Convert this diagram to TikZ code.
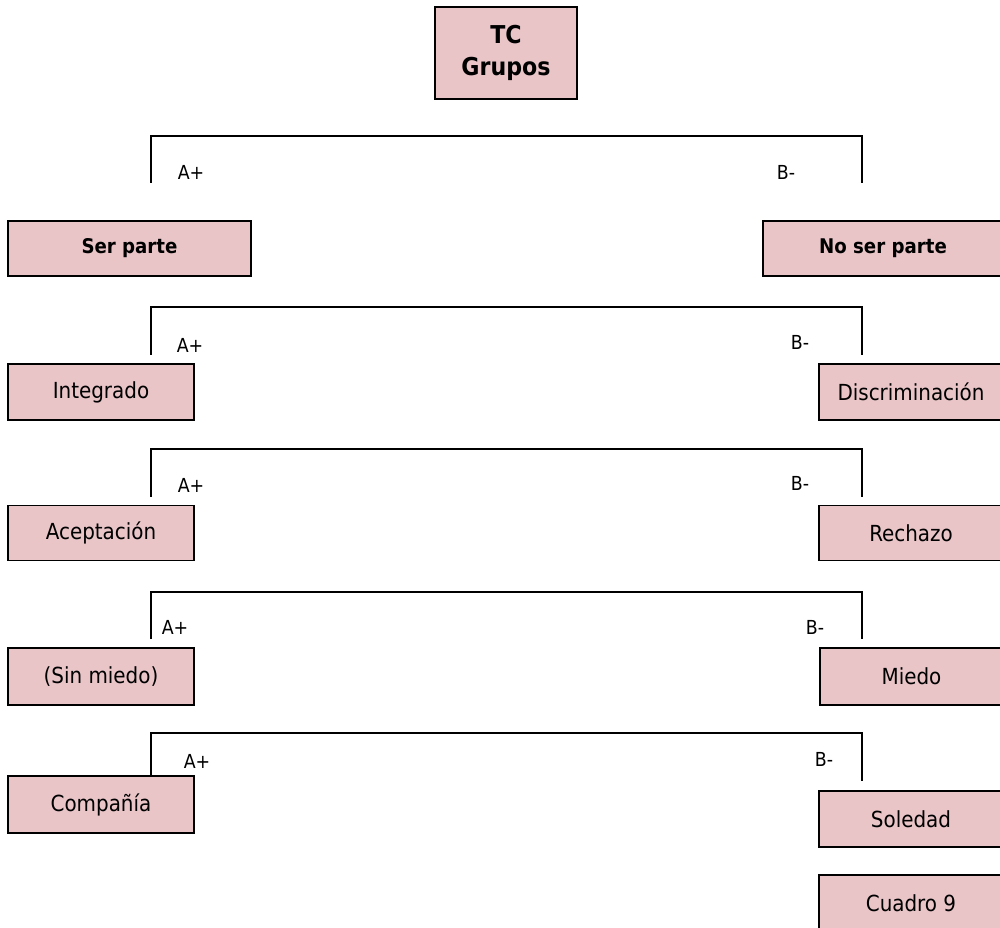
\documentclass[tikz,border=0pt]{standalone}
\usepackage{fontspec}
\setmainfont{DejaVu Sans Condensed}
\definecolor{boxpink}{RGB}{233,197,200}
\tikzset{
  box/.style={draw, line width=1pt, fill=boxpink, inner sep=0pt,
    font=\fontsize{12.6}{15}\selectfont},
  boldbox/.style={box, font=\fontsize{11.5}{14}\selectfont\bfseries},
  lab/.style={inner sep=0pt, font=\fontsize{11}{13}\selectfont},
  brk/.style={line width=0.7pt}
}
\begin{document}
\begin{tikzpicture}[x=0.02cm,y=-0.02cm]
\useasboundingbox (0,0) rectangle (1000,928);

\node[box, align=center, minimum width=2.84cm, minimum height=1.84cm,
  font=\fontsize{14}{18.5}\selectfont\bfseries] (tc) at (506,53) {TC\\Grupos};

% left and right boxes
\node[boldbox, minimum width=4.86cm, minimum height=1.1cm] (ser) at (129.5,248.5) {Ser parte};
\node[boldbox, minimum width=4.8cm, minimum height=1.1cm] (noser) at (883,248.5) {No ser parte};
\node[box, minimum width=3.72cm, minimum height=1.12cm] (integ) at (101,392) {Integrado};
\node[box, minimum width=3.68cm, minimum height=1.12cm] (discr) at (911,392) {Discriminación};
\node[box, minimum width=3.72cm, minimum height=1.1cm] (acep) at (101,533) {Aceptación};
\node[box, minimum width=3.68cm, minimum height=1.1cm] (rech) at (911,533) {Rechazo};
\node[box, minimum width=3.72cm, minimum height=1.14cm] (sinm) at (101,676.5) {(Sin miedo)};
\node[box, minimum width=3.66cm, minimum height=1.14cm] (mied) at (911.5,676.5) {Miedo};
\node[box, minimum width=3.72cm, minimum height=1.14cm] (comp) at (101,804.5) {Compañía};
\node[box, minimum width=3.68cm, minimum height=1.12cm] (sole) at (911,819) {Soledad};
\node[box, minimum width=3.68cm, minimum height=1.12cm] (cuad) at (911,903) {Cuadro 9};

% brackets
\coordinate (top1) at (506,136);
\coordinate (al1) at (151,183);
\coordinate (br1) at (862,183);
\draw[brk] (al1) |- (top1) -| (br1);
\node[lab] (ap1) at (191,172) {A+};
\node[lab] (bm1) at (786,172) {B-};

\coordinate (top2) at (506,307);
\coordinate (al2) at (151,355);
\coordinate (br2) at (862,355);
\draw[brk] (al2) |- (top2) -| (br2);
\node[lab] (ap2) at (190,345) {A+};
\node[lab] (bm2) at (800,342) {B-};

\coordinate (top3) at (506,449);
\coordinate (al3) at (151,497);
\coordinate (br3) at (862,497);
\draw[brk] (al3) |- (top3) -| (br3);
\node[lab] (ap3) at (191,485) {A+};
\node[lab] (bm3) at (800,483) {B-};

\coordinate (top4) at (506,592);
\coordinate (al4) at (151,639);
\coordinate (br4) at (862,639);
\draw[brk] (al4) |- (top4) -| (br4);
\node[lab] (ap4) at (175,627) {A+};
\node[lab] (bm4) at (815,627) {B-};

\coordinate (top5) at (506,733);
\coordinate (al5) at (comp.north -| al1);
\coordinate (br5) at (862,781);
\draw[brk] (al5) |- (top5) -| (br5);
\node[lab] (ap5) at (197,761) {A+};
\node[lab] (bm5) at (824,759) {B-};
\end{tikzpicture}
\end{document}
